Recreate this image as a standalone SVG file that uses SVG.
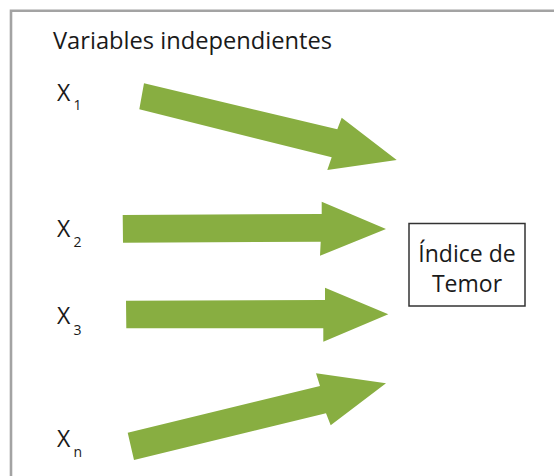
<svg xmlns="http://www.w3.org/2000/svg" width="554" height="476" viewBox="0 0 554 476">
<style>
.t{font-family:"Open Sans","Noto Sans","Liberation Sans",sans-serif;fill:#1a1a1a}
.lbl{font-size:23px}
.sub{font-size:14px}
.arr{fill:#88ae41}
</style>
<rect width="554" height="476" fill="#ffffff"/>
<path d="M11,477 V10.8 H555" fill="none" stroke="#a3a3a3" stroke-width="2.6"/>
<text class="t lbl" x="53" y="48.5" textLength="279" lengthAdjust="spacingAndGlyphs">Variables independientes</text>
<g id="x1"><text class="t lbl" x="57" y="101">X</text><text class="t sub" x="73.5" y="110">1</text></g>
<g id="x2"><text class="t lbl" x="57" y="236.7">X</text><text class="t sub" x="73.5" y="246.5">2</text></g>
<g id="x3"><text class="t lbl" x="57" y="324">X</text><text class="t sub" x="73.5" y="335">3</text></g>
<g id="xn"><text class="t lbl" x="57" y="447.3">X</text><text class="t sub" x="73.5" y="456.5">n</text></g>
<g id="indice">
<rect x="409" y="223.5" width="116" height="82.5" fill="#ffffff" stroke="#333333" stroke-width="1.5"/>
<text class="t lbl" x="467" y="261.7" text-anchor="middle">Índice de</text>
<text class="t lbl" x="467" y="291.7" text-anchor="middle">Temor</text>
</g>
<g id="connectors">
<polygon class="arr" points="144,83.3 337.3,129.3 341.7,117.7 396.7,160 327.3,170 331.7,157.3 139.3,109.3"/>
<polygon class="arr" points="122.7,215 321.7,214 321.7,201.7 386,229 320,255.7 320.7,241.7 123,242.7"/>
<polygon class="arr" points="126,300.7 325,300 325,287.7 388.3,314.3 323.3,341.7 323.3,328.3 126.3,328.3"/>
<polygon class="arr" points="127.7,432.7 320,386 316,373.3 386,383.3 330.7,425.3 326,413.3 134,460"/>
</g>
</svg>
